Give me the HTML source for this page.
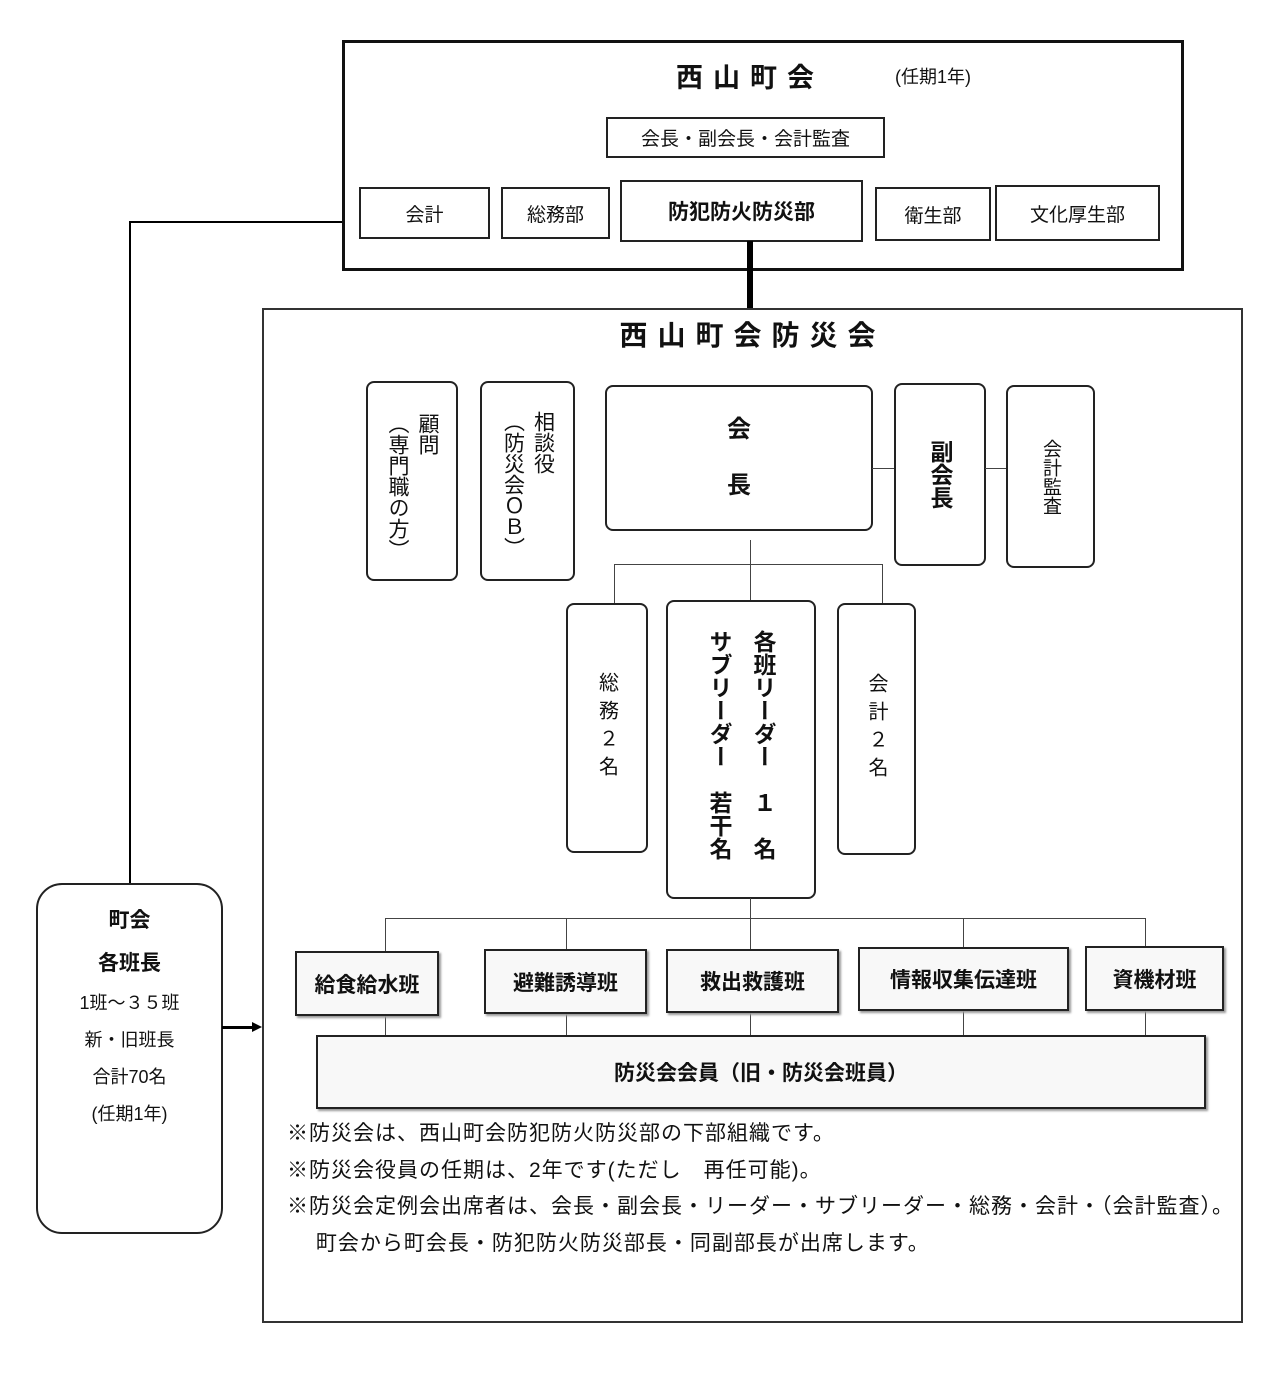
<!DOCTYPE html>
<html><head><meta charset="utf-8"><style>
body{margin:0;width:1280px;height:1380px;background:#fff;position:relative;font-family:"Liberation Sans","Noto Sans CJK JP",sans-serif;color:#111;overflow:hidden}
.a{position:absolute;box-sizing:border-box}
.b{border:2px solid #222;display:flex;align-items:center;justify-content:center;background:#fff}
.r{border-radius:8px}
.v{writing-mode:vertical-rl;text-orientation:upright}
.l{position:absolute;background:#444}
.s{box-shadow:2px 2px 2px #999;background:#f8f8f8}
</style></head><body>
<!-- top -->
<div class="a" style="left:342px;top:40px;width:842px;height:231px;border:3px solid #111"></div>
<div class="a" style="left:650px;top:56px;width:200px;text-align:center;font-size:27px;font-weight:bold;letter-spacing:10px">西山町会</div>
<div class="a" style="left:895px;top:63px;font-size:18px">(任期1年)</div>
<div class="a b" style="left:606px;top:117px;width:279px;height:41px;font-size:19px">会長・副会長・会計監査</div>
<div class="a b" style="left:359px;top:187px;width:131px;height:52px;font-size:19px">会計</div>
<div class="a b" style="left:501px;top:187px;width:109px;height:52px;font-size:19px">総務部</div>
<div class="a b" style="left:620px;top:180px;width:243px;height:62px;font-size:21px;font-weight:bold">防犯防火防災部</div>
<div class="a b" style="left:875px;top:187px;width:116px;height:54px;font-size:19px">衛生部</div>
<div class="a b" style="left:995px;top:185px;width:165px;height:56px;font-size:19px">文化厚生部</div>
<div class="l" style="left:747px;top:241px;width:6px;height:68px;background:#000"></div>
<!-- big -->
<div class="a" style="left:262px;top:308px;width:981px;height:1015px;border:2px solid #333"></div>
<div class="a" style="left:262px;top:314px;width:981px;text-align:center;font-size:28px;font-weight:bold;letter-spacing:10px">西山町会防災会</div>
<div class="a b r" style="left:366px;top:381px;width:92px;height:200px;align-items:flex-start;padding-top:30px"><div class="v" style="font-size:21px;line-height:30px">顧問<br>︵専門職の方︶</div></div>
<div class="a b r" style="left:480px;top:381px;width:95px;height:200px;align-items:flex-start;padding-top:28px"><div class="v" style="font-size:21px;line-height:30px">相談役<br>︵防災会ＯＢ︶</div></div>
<div class="a b r" style="left:605px;top:385px;width:268px;height:146px;font-size:24px;font-weight:bold;flex-direction:column;line-height:56px">会<br>長</div>
<div class="a b r" style="left:894px;top:383px;width:92px;height:183px"><div class="v" style="font-size:23px;font-weight:bold">副会長</div></div>
<div class="a b r" style="left:1006px;top:385px;width:89px;height:183px"><div class="v" style="font-size:19px">会計監査</div></div>
<div class="l" style="left:872px;top:468px;width:22px;height:1px"></div>
<div class="l" style="left:985px;top:468px;width:21px;height:1px"></div>
<div class="l" style="left:750px;top:540px;width:1px;height:60px"></div>
<div class="l" style="left:614px;top:564px;width:268px;height:1px"></div>
<div class="l" style="left:614px;top:564px;width:1px;height:40px"></div>
<div class="l" style="left:882px;top:564px;width:1px;height:40px"></div>
<div class="a b r" style="left:566px;top:603px;width:82px;height:250px"><div class="v" style="font-size:20px;letter-spacing:8px">総務２名</div></div>
<div class="a b r" style="left:666px;top:600px;width:150px;height:299px;align-items:flex-start;padding-top:28px"><div class="v" style="font-size:23px;font-weight:bold;line-height:44px">各班リーダー　１　名<br>サブリーダー　若干名</div></div>
<div class="a b r" style="left:837px;top:603px;width:79px;height:252px"><div class="v" style="font-size:20px;letter-spacing:8px">会計２名</div></div>
<div class="l" style="left:750px;top:898px;width:1px;height:20px"></div>
<div class="l" style="left:385px;top:918px;width:761px;height:1px"></div>
<div class="l" style="left:385px;top:918px;width:1px;height:117px"></div>
<div class="l" style="left:566px;top:918px;width:1px;height:117px"></div>
<div class="l" style="left:750px;top:918px;width:1px;height:117px"></div>
<div class="l" style="left:963px;top:918px;width:1px;height:117px"></div>
<div class="l" style="left:1145px;top:918px;width:1px;height:117px"></div>
<div class="a b s" style="left:295px;top:951px;width:144px;height:65px;font-size:21px;font-weight:bold">給食給水班</div>
<div class="a b s" style="left:484px;top:949px;width:163px;height:65px;font-size:21px;font-weight:bold">避難誘導班</div>
<div class="a b s" style="left:666px;top:949px;width:173px;height:64px;font-size:21px;font-weight:bold">救出救護班</div>
<div class="a b s" style="left:858px;top:947px;width:211px;height:64px;font-size:21px;font-weight:bold">情報収集伝達班</div>
<div class="a b s" style="left:1085px;top:946px;width:139px;height:65px;font-size:21px;font-weight:bold">資機材班</div>
<div class="a b s" style="left:316px;top:1035px;width:890px;height:74px;font-size:21px;font-weight:bold">防災会会員（旧・防災会班員）</div>
<div class="a" style="left:287px;top:1116px;font-size:21px;line-height:36.5px;white-space:nowrap;letter-spacing:1px">※防災会は、西山町会防犯防火防災部の下部組織です。<br>※防災会役員の任期は、2年です(ただし　再任可能)。<br>※防災会定例会出席者は、会長・副会長・リーダー・サブリーダー・総務・会計・（会計監査）。<br>　 町会から町会長・防犯防火防災部長・同副部長が出席します。</div>
<!-- left -->
<div class="l" style="left:129px;top:221px;width:2px;height:662px;background:#000"></div>
<div class="l" style="left:129px;top:221px;width:213px;height:2px;background:#000"></div>
<div class="a" style="left:36px;top:883px;width:187px;height:351px;border:2px solid #222;border-radius:26px;text-align:center;font-size:18px;line-height:37px;padding-top:14px"><b style="font-size:21px;line-height:43px">町会<br>各班長</b><br>1班～３５班<br>新・旧班長<br>合計70名<br>(任期1年)</div>
<div class="l" style="left:222px;top:1026px;width:32px;height:3px;background:#000"></div>
<div class="a" style="left:252px;top:1022px;width:0;height:0;border-left:10px solid #000;border-top:5px solid transparent;border-bottom:5px solid transparent"></div>
</body></html>
